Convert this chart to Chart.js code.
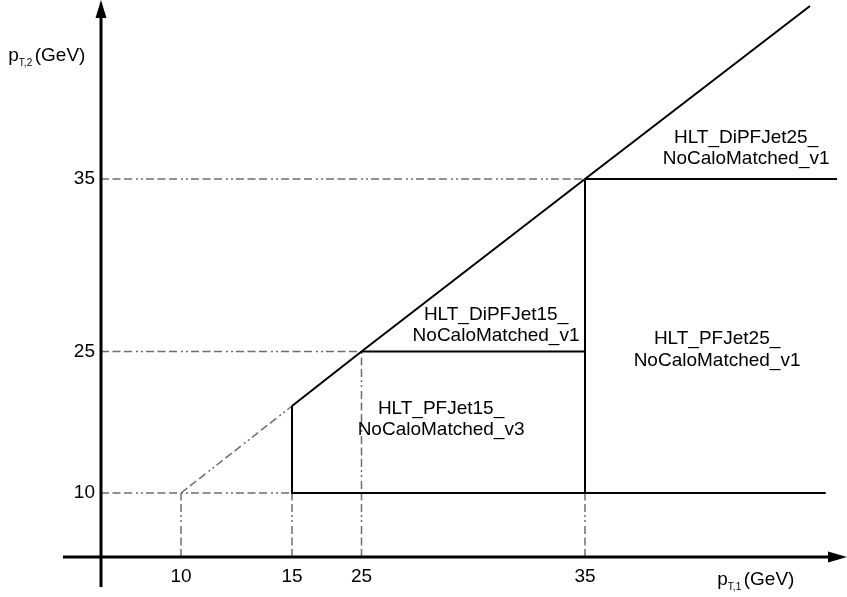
<!DOCTYPE html>
<html>
<head>
<meta charset="utf-8">
<script src="https://cdn.jsdelivr.net/npm/chart.js@4.4.1/dist/chart.umd.min.js"></script>
<style>
  html, body { margin: 0; padding: 0; background: #ffffff; }
  canvas { display: block; }
</style>
</head>
<body>
<canvas id="chart" width="847" height="597"></canvas>
<script>
// ---------------- data (GeV) ----------------
const X_TICKS = [10, 15, 25, 35];
const Y_TICKS = [10, 25, 35];

// diagonal pT1 = pT2 (solid part and dash-dot continuation)
const DIAG_SOLID = [15, 25, 35, 45];
const DIAG_DASHED = [10, 15];

// trigger region boundaries [pT1, pT2]
const EDGE_PFJET15 = [[15, 15], [15, 10], [45.7, 10]];
const EDGE_DIPFJET15 = [[25, 25], [35, 25]];
const EDGE_PFJET25 = [[35, 35], [35, 10]];
const EDGE_DIPFJET25 = [[35, 35], [46.2, 35]];

// guide lines: horizontal [pT2, pT1 end], vertical [pT1, pT2 end]
const GUIDE_H = [[35, 35], [25, 25], [10, 15]];
const GUIDE_V = [[10, 10], [15, 10], [25, 25], [35, 10]];

// region labels
const REGION_NAMES = [
  ['HLT_DiPFJet25_', 'NoCaloMatched_v1'],
  ['HLT_DiPFJet15_', 'NoCaloMatched_v1'],
  ['HLT_PFJet25_', 'NoCaloMatched_v1'],
  ['HLT_PFJet15_', 'NoCaloMatched_v3']
];
const REGION_PT1 = [42.16, 31.02, 40.87, 28.56];
const REGION_PT2 = [36.88, 26.62, 25.20, 14.34];

// ---------------- schematic (piecewise) scale ----------------
const SCALE_ANCHORS = {
  x: { v: [0, 10, 15, 25, 35, 45], f: [0, 0.10724, 0.25603, 0.34920, 0.64879, 0.95040] },
  y: { v: [0, 10, 15, 25, 35, 45], f: [0, 0.11490, 0.27110, 0.36894, 0.67864, 0.98923] }
};
function segIndex(arr, t) {
  const n = arr.length;
  if (t <= arr[0]) return 0;
  if (t >= arr[n - 1]) return n - 2;
  let i = 0;
  while (t > arr[i + 1]) i++;
  return i;
}
function toFrac(a, v) {
  const i = segIndex(a.v, v);
  return a.f[i] + (v - a.v[i]) * (a.f[i + 1] - a.f[i]) / (a.v[i + 1] - a.v[i]);
}
function fromFrac(a, f) {
  const i = segIndex(a.f, f);
  return a.v[i] + (f - a.f[i]) * (a.v[i + 1] - a.v[i]) / (a.f[i + 1] - a.f[i]);
}
class SchematicScale extends Chart.LinearScale {
  getPixelForValue(value) {
    if (value === null || value === undefined || isNaN(value)) return NaN;
    return this.getPixelForDecimal(toFrac(SCALE_ANCHORS[this.axis], value));
  }
  getValueForPixel(pixel) {
    return fromFrac(SCALE_ANCHORS[this.axis], this.getDecimalForPixel(pixel));
  }
}
SchematicScale.id = 'schematic';
SchematicScale.defaults = {};
Chart.register(SchematicScale);

// ---------------- styles ----------------
const FONT = '"Liberation Sans", Arial, sans-serif';
const solid = { borderColor: '#000000', borderWidth: 2, pointRadius: 0, showLine: true, clip: false, fill: false, tension: 0 };
const dashed = { borderColor: '#6e6e6e', borderWidth: 1.5, borderDash: [8, 3.5, 8, 3.5, 8, 4, 2, 3, 2, 3],
                 pointRadius: 0, showLine: true, clip: false, fill: false, tension: 0 };
const pts = arr => arr.map(([x, y]) => ({ x, y }));

const datasets = [
  { ...solid, data: DIAG_SOLID.map(v => ({ x: v, y: v })) },
  { ...solid, data: pts(EDGE_PFJET15) },
  { ...solid, data: pts(EDGE_DIPFJET15) },
  { ...solid, data: pts(EDGE_PFJET25) },
  { ...solid, data: pts(EDGE_DIPFJET25) },
  { ...dashed, data: DIAG_DASHED.map(v => ({ x: v, y: v })) },
  ...GUIDE_H.map(([y, xe]) => ({ ...dashed, data: [{ x: 0, y }, { x: xe, y }] })),
  ...GUIDE_V.map(([x, ye]) => ({ ...dashed, data: [{ x, y: 0 }, { x, y: ye }] }))
];

// ---------------- drawing plugins ----------------
const axesPlugin = {
  id: 'axesArrows',
  afterDatasetsDraw(chart) {
    const { ctx, chartArea: a, scales: { x: xs, y: ys } } = chart;
    const ox = xs.getPixelForValue(0), oy = ys.getPixelForValue(0);
    ctx.save();
    ctx.strokeStyle = '#000'; ctx.fillStyle = '#000'; ctx.lineWidth = 3;
    // x axis
    ctx.beginPath(); ctx.moveTo(ox - 38, oy); ctx.lineTo(a.right - 12, oy); ctx.stroke();
    ctx.beginPath(); ctx.moveTo(a.right, oy); ctx.lineTo(a.right - 19, oy - 5.5); ctx.lineTo(a.right - 19, oy + 5.5); ctx.closePath(); ctx.fill();
    // y axis
    ctx.beginPath(); ctx.moveTo(ox, oy + 30); ctx.lineTo(ox, a.top + 12); ctx.stroke();
    ctx.beginPath(); ctx.moveTo(ox, a.top); ctx.lineTo(ox - 5.5, a.top + 18); ctx.lineTo(ox + 5.5, a.top + 18); ctx.closePath(); ctx.fill();
    ctx.restore();
  }
};

function drawSubTitle(ctx, x, base, main, sub, unit) {
  ctx.font = '19px ' + FONT;
  ctx.fillText(main, x, base);
  let cx = x + ctx.measureText(main).width;
  ctx.font = '10px ' + FONT;
  ctx.fillText(sub, cx, base + 5);
  cx += ctx.measureText(sub).width + 2.5;
  ctx.font = '19px ' + FONT;
  ctx.fillText(unit, cx, base);
}

const textPlugin = {
  id: 'texts',
  afterDraw(chart) {
    const { ctx, scales: { x: xs, y: ys } } = chart;
    ctx.save();
    ctx.fillStyle = '#000';
    ctx.textBaseline = 'alphabetic';
    ctx.textAlign = 'left';
    // axis titles
    drawSubTitle(ctx, 8.3, 61, 'p', 'T,2', '(GeV)');
    drawSubTitle(ctx, 717.3, 584.5, 'p', 'T,1', '(GeV)');
    // region labels
    ctx.font = '19px ' + FONT;
    ctx.textAlign = 'center';
    REGION_NAMES.forEach((lines, i) => {
      const cx = xs.getPixelForValue(REGION_PT1[i]);
      const cy = ys.getPixelForValue(REGION_PT2[i]);
      const lh = 21.5;
      lines.forEach((t, j) => {
        const capCenter = cy + (j - (lines.length - 1) / 2) * lh;
        ctx.fillText(t, cx, capCenter + 6.8);
      });
    });
    ctx.restore();
  }
};

new Chart(document.getElementById('chart'), {
  type: 'scatter',
  data: { datasets },
  options: {
    responsive: false,
    devicePixelRatio: 1,
    animation: false,
    events: [],
    layout: { padding: 0, autoPadding: false },
    plugins: { legend: { display: false }, tooltip: { enabled: false }, title: { display: false } },
    scales: {
      x: {
        type: 'schematic', position: 'bottom', min: 0, max: 46.6,
        grid: { display: false, drawTicks: false },
        border: { display: false },
        ticks: { color: '#000', font: { family: FONT, size: 19 }, padding: 8, autoSkip: false, maxRotation: 0,
                 callback: v => String(v) },
        afterBuildTicks: s => { s.ticks = X_TICKS.map(v => ({ value: v })); },
        afterFit: s => { s.height = 40; s.paddingLeft = 0; s.paddingRight = 0; }
      },
      y: {
        type: 'schematic', position: 'left', min: 0, max: 45.4,
        grid: { display: false, drawTicks: false },
        border: { display: false },
        ticks: { color: '#000', font: { family: FONT, size: 19 }, padding: 6, autoSkip: false,
                 callback: v => String(v) },
        afterBuildTicks: s => { s.ticks = Y_TICKS.map(v => ({ value: v })); },
        afterFit: s => { s.width = 101; s.paddingTop = 0; s.paddingBottom = 0; }
      }
    }
  },
  plugins: [axesPlugin, textPlugin]
});
</script>
</body>
</html>
